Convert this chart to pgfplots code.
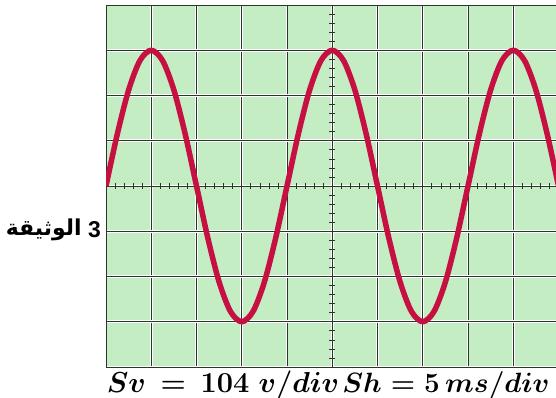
\RequirePackage{fix-cm}
\documentclass[border=0pt]{standalone}
\usepackage{fontspec}
\usepackage{pgfplots}
\pgfplotsset{compat=1.18}
\TeXXeTstate=1
\newfontfamily\arabicfont[Script=Arabic]{DejaVu Sans}
\newfontfamily\arialfont{Liberation Sans}
\definecolor{scrgreen}{RGB}{196,237,196}
\definecolor{gridc}{RGB}{40,56,40}
\definecolor{wave}{RGB}{198,16,66}

\newcommand\docword{\hbox{\fontsize{22}{24}\selectfont\arabicfont\bfseries\beginR الوثيقة\endR}}
\newcommand\docnum{\hbox{\fontsize{23}{24}\selectfont\arialfont\bfseries 3}}
\newcommand\svlabel{\hbox{\fontsize{29}{32}\selectfont\mathversion{bold}$Sv\,=\,104\;v/div$}}
\newcommand\shlabel{\hbox{\fontsize{28}{32}\selectfont\mathversion{bold}$Sh = 5\,ms/div$}}

% one period = 4 div, amplitude = 3 div
\pgfplotstableread{
x y
-5.00 0
-4.75 1.148
-4.50 2.121
-4.25 2.772
-4.00 3
-3.75 2.772
-3.50 2.121
-3.25 1.148
-3.00 0
-2.75 -1.148
-2.50 -2.121
-2.25 -2.772
-2.00 -3
-1.75 -2.772
-1.50 -2.121
-1.25 -1.148
-1.00 0
-0.75 1.148
-0.50 2.121
-0.25 2.772
0.00 3
0.25 2.772
0.50 2.121
0.75 1.148
1.00 0
1.25 -1.148
1.50 -2.121
1.75 -2.772
2.00 -3
2.25 -2.772
2.50 -2.121
2.75 -1.148
3.00 0
3.25 1.148
3.50 2.121
3.75 2.772
4.00 3
4.25 2.772
4.50 2.121
4.75 1.148
5.00 0
}\wavedata

\pgfplotsset{
  screen/.style={
    at={(106bp,30bp)}, anchor=south west,
    scale only axis, width=452.5bp, height=362bp,
    xmin=-5, xmax=5, ymin=-4, ymax=4,
    xticklabels={}, yticklabels={},
  },
}

\begin{document}
\begin{tikzpicture}[x=1bp,y=1bp]
  \useasboundingbox (0,0) rectangle (556,397);
  \clip (0,0) rectangle (556,397);

  % screen and grid
  \begin{axis}[
    screen,
    axis background/.style={fill=scrgreen},
    xtick={-5,...,5}, ytick={-4,...,4},
    major tick length=0pt,
    grid=major,
    grid style={draw=gridc, line width=0.9bp, preaction={draw=white, line width=2.6bp}},
    axis line style={draw=gridc, line width=0.9bp},
  ]
  \end{axis}

  % graduated centre lines
  \begin{axis}[
    screen,
    axis lines=middle,
    axis line style={draw=gridc, line width=0.9bp, -},
    xtick={-5,...,5}, ytick={-4,...,4},
    minor x tick num=4, minor y tick num=4,
    tick align=center,
    major tick length=6bp, minor tick length=6bp,
    tick style={draw=gridc, line width=0.7bp},
  ]
  \end{axis}

  % signal
  \begin{axis}[screen, hide axis]
    \addplot[wave, line width=5.5bp, smooth] table[x=x, y=y] {\wavedata};
  \end{axis}

  \node[anchor=east, inner sep=0pt] (num) at (101,167) {\docnum};
  \node[anchor=east, inner sep=0pt] at ([xshift=-6bp]num.east -| num.west) {\docword};
  \node[anchor=base, inner sep=0pt] at (223,5) {\svlabel};
  \node[anchor=base, inner sep=0pt] at (446,5) {\shlabel};
\end{tikzpicture}
\end{document}
